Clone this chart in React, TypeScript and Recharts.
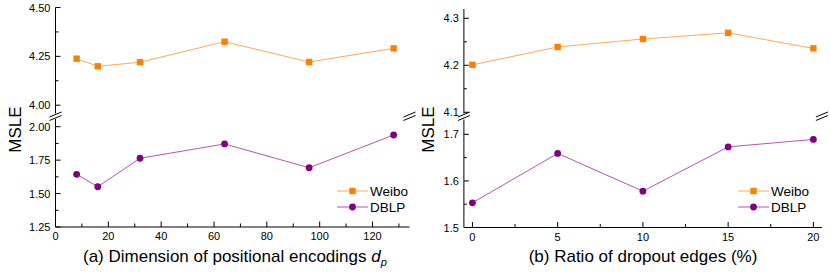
import React from 'react';
import { LineChart, Line, XAxis, YAxis, Legend } from 'recharts';

const FONT = '"Liberation Sans", Arial, Helvetica, sans-serif';
const WEIBO_MARK = '#FF7F00';
const WEIBO_LINE = '#FFAA55';
const DBLP_MARK = '#800080';
const DBLP_LINE = '#B455B4';

// ---------- Panel (a): dimension of positional encodings ----------
const dimValues = [8, 16, 32, 64, 96, 128];
const dimWeibo = [4.238, 4.199, 4.22, 4.325, 4.221, 4.291];
const dimDBLP = [1.644, 1.551, 1.764, 1.871, 1.693, 1.938];
const dimTicks = [0, 10, 20, 30, 40, 50, 60, 70, 80, 90, 100, 110, 120, 130];
const dimMajorTicks = [0, 20, 40, 60, 80, 100, 120];
const dimUpperTicks = [4.0, 4.125, 4.25, 4.375, 4.5];
const dimUpperMajor = [4.0, 4.25, 4.5];
const dimLowerTicks = [1.25, 1.375, 1.5, 1.625, 1.75, 1.875, 2.0];
const dimLowerMajor = [1.25, 1.5, 1.75, 2.0];

// ---------- Panel (b): ratio of dropout edges ----------
const dropValues = [0, 5, 10, 15, 20];
const dropWeibo = [4.201, 4.239, 4.256, 4.269, 4.236];
const dropDBLP = [1.553, 1.659, 1.578, 1.673, 1.689];
const dropTicks = [0, 2.5, 5, 7.5, 10, 12.5, 15, 17.5, 20];
const dropMajorTicks = [0, 5, 10, 15, 20];
const dropUpperTicks = [4.1, 4.15, 4.2, 4.25, 4.3];
const dropUpperMajor = [4.1, 4.2, 4.3];
const dropLowerTicks = [1.5, 1.55, 1.6, 1.65, 1.7];
const dropLowerMajor = [1.5, 1.6, 1.7];

const seriesNames = ['Weibo', 'DBLP'];

const isIn = (arr: number[], v: number) => arr.some((a) => Math.abs(a - v) < 1e-9);

type PanelCfg = {
  left: number;
  width: number;
  plotLeft: number;
  plotRight: number;
  upperTop: number;
  upperBottom: number;
  lowerTop: number;
  lowerBottom: number;
  split: number;
  xs: number[];
  weibo: number[];
  dblp: number[];
  xDomain: [number, number];
  xTicks: number[];
  xMajor: number[];
  showTopMinor: boolean;
  upperDomain: [number, number];
  upperTicks: number[];
  upperMajor: number[];
  lowerDomain: [number, number];
  lowerTicks: number[];
  lowerMajor: number[];
  yDigits: number;
  legendLeft: number;
  legendTop: number;
};

const SquareDot = (props: any) => {
  const { cx, cy, index } = props;
  if (cx == null || cy == null) return <g key={`s${index}`} />;
  return <rect key={`s${index}`} x={cx - 3.2} y={cy - 3.2} width={6.4} height={6.4} fill={WEIBO_MARK} />;
};
const CircleDot = (props: any) => {
  const { cx, cy, index } = props;
  if (cx == null || cy == null) return <g key={`c${index}`} />;
  return <circle key={`c${index}`} cx={cx} cy={cy} r={3.4} fill={DBLP_MARK} />;
};

const LegendBox = () => (
  <svg width={90} height={34} style={{ display: 'block', overflow: 'visible' }}>
    <line x1={2} x2={33} y1={8} y2={8} stroke={WEIBO_LINE} strokeWidth={1} />
    <rect x={14.3} y={4.8} width={6.4} height={6.4} fill={WEIBO_MARK} />
    <text x={35} y={8} dominantBaseline="central" fontSize={13.5} fontFamily={FONT} fill="#000">
      {seriesNames[0]}
    </text>
    <line x1={2} x2={33} y1={24} y2={24} stroke={DBLP_LINE} strokeWidth={1} />
    <circle cx={17.5} cy={24} r={3.4} fill={DBLP_MARK} />
    <text x={35} y={24} dominantBaseline="central" fontSize={13.5} fontFamily={FONT} fill="#000">
      {seriesNames[1]}
    </text>
  </svg>
);

function Panel({ c }: { c: PanelCfg }) {
  const data = c.xs.map((x, i) => ({ x, weibo: c.weibo[i], dblp: c.dblp[i] }));
  const W = c.width;
  const upperH = 118;
  const lowerH = 274 - c.split;
  const lpTop = c.lowerTop - c.split;
  const lpBottom = c.lowerBottom - c.split;
  const xAxisH = 20;
  const fmtY = (v: number) => v.toFixed(c.yDigits);

  const leftTick = (majors: number[], showLabel: boolean) => (props: any) => {
    const { y, payload } = props;
    const v = payload.value;
    const major = isIn(majors, v);
    const len = major ? 5 : 3;
    return (
      <g>
        <line x1={c.plotLeft} x2={c.plotLeft + len} y1={y} y2={y} stroke="#000" strokeWidth={1} />
        {showLabel && major && (
          <text x={c.plotLeft - 5} y={y} textAnchor="end" dominantBaseline="central" fontSize={11} fontFamily={FONT} fill="#000">
            {fmtY(v)}
          </text>
        )}
      </g>
    );
  };
  const rightTick = (majors: number[]) => (props: any) => {
    const { y, payload } = props;
    const major = isIn(majors, payload.value);
    const len = major ? 5 : 3;
    return <line x1={c.plotRight} x2={c.plotRight - len} y1={y} y2={y} stroke="#000" strokeWidth={1} />;
  };
  const topTick = (props: any) => {
    const { x, payload } = props;
    const major = isIn(c.xMajor, payload.value);
    if (!major && !c.showTopMinor) return <g />;
    const len = major ? 5.5 : 3.5;
    return <line x1={x} x2={x} y1={c.upperTop} y2={c.upperTop + len} stroke="#000" strokeWidth={1} />;
  };
  const bottomTick = (props: any) => {
    const { x, payload } = props;
    const major = isIn(c.xMajor, payload.value);
    const len = major ? 5.5 : 3.5;
    return (
      <g>
        <line x1={x} x2={x} y1={lpBottom} y2={lpBottom - len} stroke="#000" strokeWidth={1} />
        {major && (
          <text x={x} y={lpBottom + 9} textAnchor="middle" dominantBaseline="central" fontSize={11} fontFamily={FONT} fill="#000">
            {String(payload.value)}
          </text>
        )}
      </g>
    );
  };

  return (
    <div style={{ position: 'absolute', left: c.left, top: 0, width: W, height: 274 }}>
      <div style={{ position: 'absolute', left: 0, top: 0 }}>
        <LineChart
          width={W}
          height={upperH}
          data={data}
          margin={{ top: c.upperTop, bottom: upperH - c.upperBottom, left: 0, right: W - c.plotRight }}
        >
          <XAxis
            xAxisId="t"
            orientation="top"
            type="number"
            dataKey="x"
            domain={c.xDomain}
            ticks={c.xTicks}
            interval={0}
            allowDataOverflow
            height={0}
            axisLine={{ stroke: '#000', strokeWidth: 1 }}
            tickLine={false}
            tick={topTick}
          />
          <YAxis
            yAxisId="l"
            type="number"
            domain={c.upperDomain}
            ticks={c.upperTicks}
            interval={0}
            allowDataOverflow
            width={c.plotLeft}
            axisLine={{ stroke: '#000', strokeWidth: 1 }}
            tickLine={false}
            tick={leftTick(c.upperMajor, true)}
          />
          <YAxis
            yAxisId="r"
            orientation="right"
            type="number"
            domain={c.upperDomain}
            ticks={c.upperTicks}
            interval={0}
            allowDataOverflow
            width={0}
            axisLine={{ stroke: '#000', strokeWidth: 1 }}
            tickLine={false}
            tick={rightTick(c.upperMajor)}
          />
          <Line
            xAxisId="t"
            yAxisId="l"
            type="linear"
            dataKey="weibo"
            name={seriesNames[0]}
            stroke={WEIBO_LINE}
            strokeWidth={1}
            dot={SquareDot}
            activeDot={false}
            isAnimationActive={false}
          />
        </LineChart>
      </div>
      <div style={{ position: 'absolute', left: 0, top: c.split }}>
        <LineChart
          width={W}
          height={lowerH}
          data={data}
          margin={{ top: lpTop, bottom: lowerH - lpBottom - xAxisH, left: 0, right: W - c.plotRight }}
        >
          <XAxis
            xAxisId="b"
            orientation="bottom"
            type="number"
            dataKey="x"
            domain={c.xDomain}
            ticks={c.xTicks}
            interval={0}
            allowDataOverflow
            height={xAxisH}
            axisLine={{ stroke: '#000', strokeWidth: 1 }}
            tickLine={false}
            tick={bottomTick}
          />
          <YAxis
            yAxisId="l"
            type="number"
            domain={c.lowerDomain}
            ticks={c.lowerTicks}
            interval={0}
            allowDataOverflow
            width={c.plotLeft}
            axisLine={{ stroke: '#000', strokeWidth: 1 }}
            tickLine={false}
            tick={leftTick(c.lowerMajor, true)}
          />
          <YAxis
            yAxisId="r"
            orientation="right"
            type="number"
            domain={c.lowerDomain}
            ticks={c.lowerTicks}
            interval={0}
            allowDataOverflow
            width={0}
            axisLine={{ stroke: '#000', strokeWidth: 1 }}
            tickLine={false}
            tick={rightTick(c.lowerMajor)}
          />
          <Legend
            layout="vertical"
            align="center"
            verticalAlign="middle"
            wrapperStyle={{ left: c.legendLeft, top: c.legendTop - c.split }}
            content={() => <LegendBox />}
          />
          <Line
            xAxisId="b"
            yAxisId="l"
            type="linear"
            dataKey="dblp"
            name={seriesNames[1]}
            stroke={DBLP_LINE}
            strokeWidth={1}
            dot={CircleDot}
            activeDot={false}
            isAnimationActive={false}
          />
        </LineChart>
      </div>
    </div>
  );
}

const panelA: PanelCfg = {
  left: 0,
  width: 415,
  plotLeft: 55.5,
  plotRight: 409.5,
  upperTop: 7.5,
  upperBottom: 113.5,
  lowerTop: 119,
  lowerBottom: 227,
  split: 115,
  xs: dimValues,
  weibo: dimWeibo,
  dblp: dimDBLP,
  xDomain: [0, 134],
  xTicks: dimTicks,
  xMajor: dimMajorTicks,
  showTopMinor: true,
  upperDomain: [3.9575, 4.5],
  upperTicks: dimUpperTicks,
  upperMajor: dimUpperMajor,
  lowerDomain: [1.25, 2.0576],
  lowerTicks: dimLowerTicks,
  lowerMajor: dimLowerMajor,
  yDigits: 2,
  legendLeft: 335,
  legendTop: 183,
};

const panelB: PanelCfg = {
  left: 415,
  width: 415,
  plotLeft: 48.9,
  plotRight: 406.9,
  upperTop: 9,
  upperBottom: 113.5,
  lowerTop: 119.5,
  lowerBottom: 227.5,
  split: 115,
  xs: dropValues,
  weibo: dropWeibo,
  dblp: dropDBLP,
  xDomain: [-0.5, 20.5],
  xTicks: dropTicks,
  xMajor: dropMajorTicks,
  showTopMinor: false,
  upperDomain: [4.0974, 4.3198],
  upperTicks: dropUpperTicks,
  upperMajor: dropUpperMajor,
  lowerDomain: [1.5, 1.7318],
  lowerTicks: dropLowerTicks,
  lowerMajor: dropLowerMajor,
  yDigits: 1,
  legendLeft: 321,
  legendTop: 183,
};

const BreakMark = ({ x, y1, y2 }: { x: number; y1: number; y2: number }) => (
  <g stroke="#000" strokeWidth={1}>
    <line x1={x - 6} y1={y1 + 2.5} x2={x + 6} y2={y1 - 2.5} />
    <line x1={x - 6} y1={y2 + 2.5} x2={x + 6} y2={y2 - 2.5} />
  </g>
);

export default function App() {
  const yMid = 129.5;
  return (
    <div style={{ position: 'absolute', left: 0, top: 0, width: 830, height: 274, background: '#fff', overflow: 'hidden' }}>
      <Panel c={panelA} />
      <Panel c={panelB} />
      <svg width={830} height={274} style={{ position: 'absolute', left: 0, top: 0, pointerEvents: 'none' }}>
        <BreakMark x={55.5} y1={114.5} y2={118} />
        <BreakMark x={409.5} y1={114.5} y2={118} />
        <BreakMark x={463.9} y1={114.5} y2={118} />
        <BreakMark x={821.9} y1={114.5} y2={118} />
        <text transform={`translate(20.5 ${yMid}) rotate(-90)`} textAnchor="middle" fontSize={17} fontFamily={FONT} fill="#000">
          MSLE
        </text>
        <text transform={`translate(433.5 ${yMid}) rotate(-90)`} textAnchor="middle" fontSize={17} fontFamily={FONT} fill="#000">
          MSLE
        </text>
        <text x={83} y={262} fontSize={17} fontFamily={FONT} fill="#000">
          (a) Dimension of positional encodings{' '}
          <tspan fontStyle="italic">d</tspan>
          <tspan fontStyle="italic" fontSize={11} dy={4}>p</tspan>
        </text>
        <text x={643} y={262} textAnchor="middle" fontSize={17} fontFamily={FONT} fill="#000">
          (b) Ratio of dropout edges (%)
        </text>
      </svg>
    </div>
  );
}
